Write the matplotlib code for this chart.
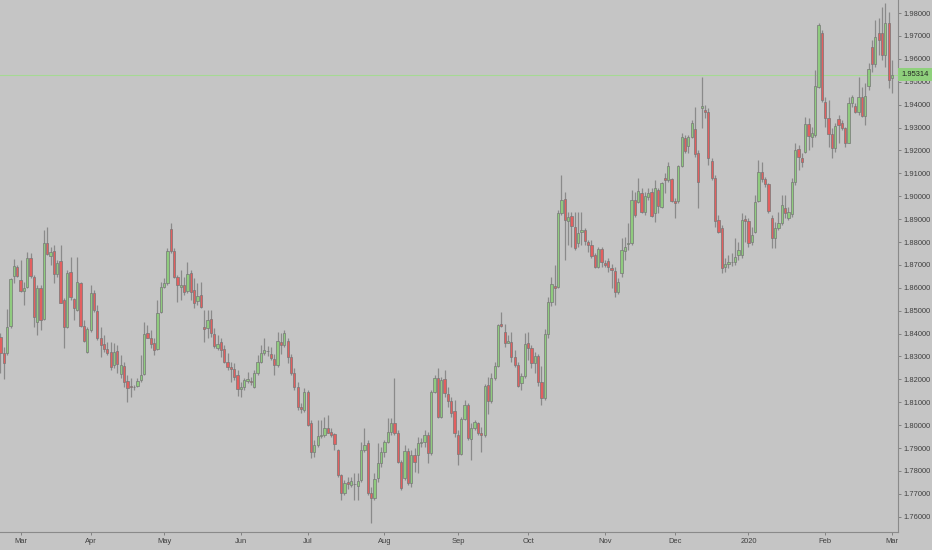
import matplotlib
matplotlib.use("Agg")
import matplotlib.pyplot as plt
from matplotlib import font_manager
import numpy as np
import pandas as pd

# ---------------- data (GBP/NZD style daily candles) ----------------
opens = [1.8383,1.8316,1.8314,1.8433,1.8651,1.8692,1.8634,1.8587,1.8605,1.8729,
         1.8648,1.8452,1.8598,1.8462,1.8794,1.8739,1.8762,1.8660,1.8718,1.8547,
         1.8427,1.8670,1.8549,1.8503,1.8619,1.8433,1.8321,1.8416,1.8576,1.8500,
         1.8382,1.8353,1.8331,1.8321,1.8263,1.8324,1.8222,1.8258,1.8194,1.8173,
         1.8165,1.8173,1.8196,1.8222,1.8401,1.8382,1.8360,1.8333,1.8496,1.8605,
         1.8620,1.8857,1.8761,1.8649,1.8602,1.8612,1.8587,1.8663,1.8590,1.8544,
         1.8568,1.8430,1.8423,1.8462,1.8398,1.8336,1.8365,1.8333,1.8277,1.8255,
         1.8244,1.8219,1.8156,1.8165,1.8194,1.8194,1.8168,1.8226,1.8277,1.8314,
         1.8325,1.8313,1.8287,1.8262,1.8364,1.8350,1.8369,1.8296,1.8229,1.8168,
         1.8080,1.8066,1.8146,1.8008,1.7884,1.7913,1.7952,1.7957,1.7989,1.7971,
         1.7960,1.7891,1.7782,1.7702,1.7753,1.7738,1.7743,1.7735,1.7761,1.7892,
         1.7924,1.7706,1.7681,1.7768,1.7834,1.7885,1.7928,1.7972,1.8008,1.7965,
         1.7841,1.7768,1.7889,1.7746,1.7870,1.7870,1.7924,1.7928,1.7957,1.7877,
         1.8147,1.8205,1.8037,1.8200,1.8136,1.8107,1.8063,1.7957,1.7876,1.8029,
         1.8088,1.7938,1.7986,1.8010,1.7964,1.7959,1.8175,1.8107,1.8204,1.8258,
         1.8441,1.8408,1.8360,1.8364,1.8296,1.8262,1.8185,1.8214,1.8357,1.8335,
         1.8270,1.8300,1.8190,1.8120,1.8400,1.8540,1.8609,1.8605,1.8925,1.8987,
         1.8891,1.8915,1.8867,1.8794,1.8842,1.8852,1.8801,1.8787,1.8743,1.8692,
         1.8769,1.8709,1.8717,1.8685,1.8673,1.8583,1.8663,1.8762,1.8791,1.8794,
         1.8983,1.8976,1.9015,1.8932,1.8998,1.9020,1.8928,1.9027,1.8951,1.9078,
         1.9071,1.9073,1.8979,1.8979,1.9132,1.9253,1.9219,1.9260,1.9292,1.9187,
         1.9383,1.9376,1.9369,1.9154,1.9081,1.8896,1.8863,1.8692,1.8702,1.8711,
         1.8714,1.8743,1.8743,1.8900,1.8892,1.8801,1.8845,1.8979,1.9104,1.9075,
         1.9052,1.8906,1.8816,1.8860,1.8881,1.8947,1.8906,1.8921,1.9061,1.9205,
         1.9165,1.9195,1.9315,1.9260,1.9267,1.9476,1.9714,1.9413,1.9340,1.9270,
         1.9209,1.9336,1.9321,1.9296,1.9234,1.9409,1.9394,1.9369,1.9432,1.9350,
         1.9481,1.9653,1.9577,1.9711,1.9711,1.9617,1.9755,1.9515]
highs = [1.8401,1.8343,1.8506,1.8641,1.8724,1.8699,1.8721,1.8627,1.8758,1.8750,
         1.8656,1.8612,1.8612,1.8852,1.8867,1.8780,1.8787,1.8721,1.8787,1.8554,
         1.8678,1.8736,1.8554,1.8736,1.8627,1.8459,1.8430,1.8612,1.8590,1.8525,
         1.8430,1.8394,1.8365,1.8365,1.8357,1.8350,1.8306,1.8277,1.8219,1.8205,
         1.8175,1.8205,1.8306,1.8452,1.8437,1.8416,1.8379,1.8547,1.8627,1.8641,
         1.8772,1.8882,1.8772,1.8656,1.8678,1.8649,1.8714,1.8678,1.8641,1.8619,
         1.8627,1.8503,1.8503,1.8503,1.8423,1.8394,1.8379,1.8350,1.8314,1.8277,
         1.8270,1.8241,1.8190,1.8204,1.8234,1.8212,1.8241,1.8306,1.8350,1.8379,
         1.8345,1.8343,1.8313,1.8408,1.8401,1.8415,1.8379,1.8313,1.8248,1.8190,
         1.8095,1.8161,1.8153,1.8022,1.7935,1.8022,1.8022,1.8037,1.8044,1.7986,
         1.7964,1.7898,1.7789,1.7760,1.7775,1.7775,1.7790,1.7790,1.7928,1.7987,
         1.7936,1.7732,1.7790,1.7921,1.7906,1.7936,1.8030,1.8030,1.8205,1.7979,
         1.7848,1.7914,1.7899,1.7892,1.7899,1.7950,1.7945,1.7979,1.7972,1.8154,
         1.8219,1.8249,1.8210,1.8240,1.8168,1.8124,1.8109,1.7978,1.8037,1.8109,
         1.8095,1.8008,1.8022,1.8015,1.7993,1.8182,1.8211,1.8226,1.8277,1.8444,
         1.8495,1.8444,1.8393,1.8408,1.8328,1.8277,1.8226,1.8401,1.8408,1.8350,
         1.8320,1.8310,1.8260,1.8420,1.8560,1.8645,1.8699,1.8939,1.9092,1.9020,
         1.8932,1.8932,1.8932,1.8932,1.8932,1.8859,1.8808,1.8808,1.8750,1.8779,
         1.8779,1.8721,1.8728,1.8706,1.8692,1.8641,1.8816,1.8823,1.8881,1.9027,
         1.9020,1.9078,1.9034,1.9020,1.9034,1.9034,1.9071,1.9034,1.9063,1.9100,
         1.9151,1.9078,1.8990,1.9136,1.9274,1.9267,1.9267,1.9333,1.9391,1.9202,
         1.9522,1.9400,1.9384,1.9165,1.9093,1.8918,1.8874,1.8729,1.8743,1.8750,
         1.8816,1.8801,1.8925,1.8918,1.8903,1.8867,1.9005,1.9158,1.9151,1.9085,
         1.9056,1.8918,1.8889,1.8932,1.9005,1.9005,1.8954,1.9078,1.9231,1.9224,
         1.9187,1.9347,1.9340,1.9304,1.9551,1.9755,1.9726,1.9435,1.9420,1.9296,
         1.9318,1.9355,1.9333,1.9304,1.9435,1.9442,1.9406,1.9522,1.9478,1.9493,
         1.9580,1.9682,1.9770,1.9777,1.9828,1.9842,1.9806,1.9595]
lows = [1.8226,1.8200,1.8306,1.8423,1.8619,1.8648,1.8583,1.8525,1.8598,1.8641,
        1.8430,1.8394,1.8416,1.8459,1.8743,1.8699,1.8619,1.8648,1.8532,1.8335,
        1.8423,1.8547,1.8459,1.8500,1.8430,1.8365,1.8314,1.8408,1.8496,1.8372,
        1.8299,1.8321,1.8306,1.8241,1.8248,1.8226,1.8205,1.8168,1.8103,1.8125,
        1.8154,1.8168,1.8190,1.8219,1.8379,1.8336,1.8306,1.8328,1.8488,1.8598,
        1.8612,1.8750,1.8641,1.8539,1.8547,1.8568,1.8576,1.8547,1.8510,1.8525,
        1.8510,1.8365,1.8379,1.8386,1.8336,1.8328,1.8299,1.8270,1.8241,1.8190,
        1.8197,1.8127,1.8124,1.8153,1.8183,1.8175,1.8161,1.8219,1.8270,1.8306,
        1.8300,1.8284,1.8219,1.8255,1.8313,1.8343,1.8270,1.8219,1.8153,1.8066,
        1.8055,1.8059,1.7996,1.7855,1.7862,1.7906,1.7942,1.7949,1.7964,1.7949,
        1.7891,1.7775,1.7673,1.7695,1.7720,1.7731,1.7673,1.7673,1.7754,1.7885,
        1.7695,1.7572,1.7674,1.7754,1.7819,1.7863,1.7921,1.7957,1.7957,1.7834,
        1.7717,1.7761,1.7739,1.7732,1.7797,1.7790,1.7905,1.7906,1.7834,1.7870,
        1.8139,1.8030,1.8030,1.8124,1.8080,1.8037,1.7949,1.7825,1.7869,1.8022,
        1.7935,1.7847,1.7978,1.7957,1.7884,1.7949,1.8051,1.8095,1.8197,1.8255,
        1.8430,1.8342,1.8357,1.8277,1.8255,1.8168,1.8153,1.8204,1.8284,1.8250,
        1.8230,1.8170,1.8090,1.8110,1.8380,1.8520,1.8524,1.8597,1.8918,1.8721,
        1.8787,1.8779,1.8765,1.8779,1.8787,1.8787,1.8757,1.8728,1.8685,1.8685,
        1.8692,1.8692,1.8670,1.8597,1.8561,1.8575,1.8648,1.8721,1.8765,1.8787,
        1.8910,1.8969,1.8925,1.8918,1.8983,1.8910,1.8888,1.8925,1.8947,1.9012,
        1.9063,1.8976,1.8903,1.8969,1.9129,1.9187,1.9187,1.9253,1.9172,1.8947,
        1.9300,1.9340,1.9136,1.9071,1.8867,1.8838,1.8663,1.8670,1.8685,1.8697,
        1.8699,1.8721,1.8729,1.8801,1.8779,1.8787,1.8838,1.8973,1.9063,1.9042,
        1.8925,1.8772,1.8772,1.8852,1.8874,1.8903,1.8896,1.8910,1.9050,1.9114,
        1.9129,1.9187,1.9202,1.9216,1.9260,1.9471,1.9413,1.9304,1.9216,1.9165,
        1.9195,1.9231,1.9289,1.9216,1.9231,1.9391,1.9362,1.9355,1.9347,1.9311,
        1.9464,1.9544,1.9566,1.9617,1.9595,1.9566,1.9471,1.9451]
closes = [1.8316,1.8270,1.8430,1.8637,1.8697,1.8651,1.8587,1.8600,1.8729,1.8651,
          1.8474,1.8598,1.8459,1.8797,1.8747,1.8758,1.8660,1.8710,1.8535,1.8430,
          1.8663,1.8558,1.8510,1.8627,1.8433,1.8369,1.8418,1.8576,1.8503,1.8382,
          1.8350,1.8331,1.8317,1.8256,1.8321,1.8266,1.8263,1.8190,1.8164,1.8168,
          1.8168,1.8193,1.8219,1.8397,1.8382,1.8353,1.8328,1.8488,1.8605,1.8620,
          1.8761,1.8761,1.8649,1.8612,1.8612,1.8583,1.8660,1.8583,1.8535,1.8564,
          1.8517,1.8420,1.8459,1.8401,1.8346,1.8353,1.8328,1.8277,1.8255,1.8244,
          1.8212,1.8156,1.8168,1.8197,1.8200,1.8190,1.8226,1.8277,1.8314,1.8328,
          1.8322,1.8292,1.8262,1.8369,1.8350,1.8401,1.8299,1.8229,1.8168,1.8080,
          1.8069,1.8146,1.8000,1.7884,1.7913,1.7952,1.7957,1.7986,1.7968,1.7957,
          1.7917,1.7782,1.7702,1.7746,1.7743,1.7756,1.7742,1.7758,1.7892,1.7914,
          1.7706,1.7681,1.7764,1.7834,1.7885,1.7928,1.7972,1.8008,1.7965,1.7841,
          1.7724,1.7889,1.7746,1.7870,1.7841,1.7924,1.7928,1.7957,1.7877,1.8147,
          1.8205,1.8037,1.8198,1.8139,1.8107,1.8054,1.7964,1.7876,1.8029,1.8088,
          1.7946,1.7986,1.8015,1.7964,1.7956,1.8171,1.8107,1.8204,1.8258,1.8437,
          1.8433,1.8360,1.8369,1.8299,1.8262,1.8171,1.8214,1.8354,1.8335,1.8270,
          1.8300,1.8190,1.8120,1.8400,1.8540,1.8615,1.8600,1.8925,1.8983,1.8896,
          1.8910,1.8871,1.8772,1.8838,1.8852,1.8804,1.8789,1.8740,1.8692,1.8769,
          1.8714,1.8699,1.8692,1.8677,1.8583,1.8626,1.8765,1.8779,1.8797,1.8983,
          1.8918,1.9024,1.8932,1.9001,1.9015,1.8913,1.9034,1.8957,1.9056,1.9071,
          1.9132,1.8980,1.8972,1.9132,1.9260,1.9199,1.9260,1.9318,1.9184,1.9063,
          1.9394,1.9369,1.9165,1.9081,1.8892,1.8845,1.8685,1.8702,1.8714,1.8714,
          1.8736,1.8765,1.8896,1.8892,1.8794,1.8830,1.8976,1.9104,1.9075,1.9052,
          1.8935,1.8816,1.8860,1.8881,1.8962,1.8925,1.8929,1.9061,1.9202,1.9173,
          1.9151,1.9315,1.9263,1.9278,1.9481,1.9748,1.9420,1.9340,1.9270,1.9209,
          1.9307,1.9311,1.9296,1.9234,1.9409,1.9432,1.9369,1.9432,1.9350,1.9438,
          1.9554,1.9577,1.9697,1.9682,1.9617,1.9755,1.9508,1.9531]

last_price = 1.95314
price_ticks = [1.76, 1.77, 1.78, 1.79, 1.80, 1.81, 1.82, 1.83, 1.84, 1.85, 1.86,
               1.87, 1.88, 1.89, 1.90, 1.91, 1.92, 1.93, 1.94, 1.95, 1.96, 1.97, 1.98]
month_labels = ["Mar", "Apr", "May", "Jun", "Jul", "Aug", "Sep", "Oct", "Nov",
                "Dec", "2020", "Feb", "Mar"]

# ---------------- style ----------------
BG = "#c5c5c5"
UP = "#8fcb7e"
DOWN = "#e35f5f"
EDGE = "#777777"
WICK = "#8a8a8a"
TXT = "#3f3f3f"

# pick a narrow font if present
try:
    font_manager.findfont("Liberation Sans Narrow", fallback_to_default=False)
    FONT = ["Liberation Sans Narrow", "DejaVu Sans"]
    FS = 6.2
except Exception:
    FONT = ["Liberation Sans", "DejaVu Sans"]
    FS = 5.4

n = len(closes)
o = np.array(opens); h = np.array(highs); l = np.array(lows); c = np.array(closes)
x = np.arange(n)
dates = pd.bdate_range(end="2020-03-02", periods=n)

W, H = 932, 550
fig = plt.figure(figsize=(W / 100, H / 100), dpi=100, facecolor=BG)
ax = fig.add_axes([0, 18 / H, 898 / W, 532 / H])
ax.set_facecolor(BG)

up = c >= o
body_bottom = np.minimum(o, c)
body_h = np.maximum(np.abs(c - o), 0.00012)

ax.vlines(x, l, h, color=WICK, linewidth=0.9, zorder=2)
ax.bar(x, body_h, bottom=body_bottom, width=0.68,
       color=np.where(up, UP, DOWN), edgecolor=EDGE, linewidth=0.5, zorder=3)

ax.axhline(last_price, color="#a6d994", linewidth=0.8, zorder=1)

# axes limits (pixel-calibrated)
px_per_bar = 3.339
ax.set_xlim(n - 1 - 892 / px_per_bar, n - 1 + 6 / px_per_bar)
ax.set_ylim(1.75336, 1.98568)

# right price axis
ax.yaxis.tick_right()
ax.set_yticks(price_ticks)
ax.set_yticklabels([f"{p:.5f}" for p in price_ticks], fontsize=FS,
                   color=TXT, family=FONT)
ax.tick_params(axis="y", length=2.5, width=0.6, color="#777777", pad=1.2)

# month ticks
month_pos = []
seen = set()
for i, d in enumerate(dates):
    key = (d.year, d.month)
    if key not in seen:
        seen.add(key)
        if d.day <= 7:
            month_pos.append(i)
month_pos = month_pos[-len(month_labels):]
ax.set_xticks(month_pos)
ax.set_xticklabels(month_labels, fontsize=FS, color=TXT, family=FONT)
ax.tick_params(axis="x", length=2.5, width=0.6, color="#777777", pad=2)

for s in ["top", "left"]:
    ax.spines[s].set_visible(False)
for s in ["right", "bottom"]:
    ax.spines[s].set_color("#8a8a8a")
    ax.spines[s].set_linewidth(0.8)

# last price label
ax.annotate(f"{last_price:.5f}", xy=(1.0, last_price),
            xycoords=("axes fraction", "data"), xytext=(2.6, 0),
            textcoords="offset points", va="center", ha="left",
            fontsize=FS, color="#222222", family=FONT, zorder=5,
            bbox=dict(boxstyle="square,pad=0.45", facecolor="#8fd07c",
                      edgecolor="none"), annotation_clip=False)

fig.savefig("out.png", dpi=100, facecolor=BG)
